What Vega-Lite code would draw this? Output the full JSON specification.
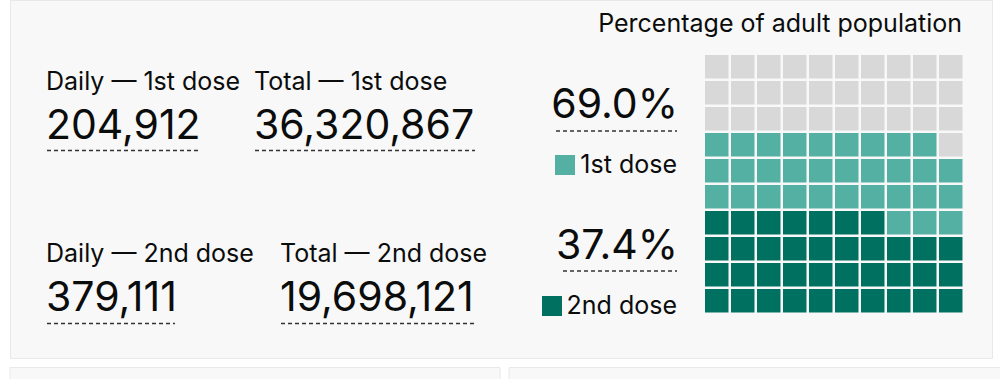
{
  "$schema": "https://vega.github.io/schema/vega-lite/v6.json",
  "width": 982,
  "height": 358,
  "autosize": {"type": "none"},
  "padding": {"left": 10, "top": 0, "right": 8, "bottom": 21},
  "background": "#ffffff",
  "config": {
    "view": {"fill": "#f8f8f8", "stroke": "#e8e8e8", "strokeWidth": 1},
    "text": {"font": "Inter", "color": "#0b0c0c", "baseline": "alphabetic"}
  },
  "datasets": {
    "stats": [
      {"stat": "Daily — 1st dose", "dose": "1st dose", "value": 204912},
      {"stat": "Total — 1st dose", "dose": "1st dose", "value": 36320867},
      {"stat": "Daily — 2nd dose", "dose": "2nd dose", "value": 379111},
      {"stat": "Total — 2nd dose", "dose": "2nd dose", "value": 19698121}
    ],
    "pct": [
      {"status": "1st dose", "share": 0.690},
      {"status": "2nd dose", "share": 0.374}
    ],
    "title": [{"title": "Percentage of adult population"}],
    "panels": [{"panel": "lower left"}, {"panel": "lower right"}],
    "waffle": [
      {"row":0,"col":0,"status":"Not yet vaccinated"},{"row":0,"col":1,"status":"Not yet vaccinated"},{"row":0,"col":2,"status":"Not yet vaccinated"},{"row":0,"col":3,"status":"Not yet vaccinated"},{"row":0,"col":4,"status":"Not yet vaccinated"},{"row":0,"col":5,"status":"Not yet vaccinated"},{"row":0,"col":6,"status":"Not yet vaccinated"},{"row":0,"col":7,"status":"Not yet vaccinated"},{"row":0,"col":8,"status":"Not yet vaccinated"},{"row":0,"col":9,"status":"Not yet vaccinated"},
      {"row":1,"col":0,"status":"Not yet vaccinated"},{"row":1,"col":1,"status":"Not yet vaccinated"},{"row":1,"col":2,"status":"Not yet vaccinated"},{"row":1,"col":3,"status":"Not yet vaccinated"},{"row":1,"col":4,"status":"Not yet vaccinated"},{"row":1,"col":5,"status":"Not yet vaccinated"},{"row":1,"col":6,"status":"Not yet vaccinated"},{"row":1,"col":7,"status":"Not yet vaccinated"},{"row":1,"col":8,"status":"Not yet vaccinated"},{"row":1,"col":9,"status":"Not yet vaccinated"},
      {"row":2,"col":0,"status":"Not yet vaccinated"},{"row":2,"col":1,"status":"Not yet vaccinated"},{"row":2,"col":2,"status":"Not yet vaccinated"},{"row":2,"col":3,"status":"Not yet vaccinated"},{"row":2,"col":4,"status":"Not yet vaccinated"},{"row":2,"col":5,"status":"Not yet vaccinated"},{"row":2,"col":6,"status":"Not yet vaccinated"},{"row":2,"col":7,"status":"Not yet vaccinated"},{"row":2,"col":8,"status":"Not yet vaccinated"},{"row":2,"col":9,"status":"Not yet vaccinated"},
      {"row":3,"col":0,"status":"1st dose"},{"row":3,"col":1,"status":"1st dose"},{"row":3,"col":2,"status":"1st dose"},{"row":3,"col":3,"status":"1st dose"},{"row":3,"col":4,"status":"1st dose"},{"row":3,"col":5,"status":"1st dose"},{"row":3,"col":6,"status":"1st dose"},{"row":3,"col":7,"status":"1st dose"},{"row":3,"col":8,"status":"1st dose"},{"row":3,"col":9,"status":"Not yet vaccinated"},
      {"row":4,"col":0,"status":"1st dose"},{"row":4,"col":1,"status":"1st dose"},{"row":4,"col":2,"status":"1st dose"},{"row":4,"col":3,"status":"1st dose"},{"row":4,"col":4,"status":"1st dose"},{"row":4,"col":5,"status":"1st dose"},{"row":4,"col":6,"status":"1st dose"},{"row":4,"col":7,"status":"1st dose"},{"row":4,"col":8,"status":"1st dose"},{"row":4,"col":9,"status":"1st dose"},
      {"row":5,"col":0,"status":"1st dose"},{"row":5,"col":1,"status":"1st dose"},{"row":5,"col":2,"status":"1st dose"},{"row":5,"col":3,"status":"1st dose"},{"row":5,"col":4,"status":"1st dose"},{"row":5,"col":5,"status":"1st dose"},{"row":5,"col":6,"status":"1st dose"},{"row":5,"col":7,"status":"1st dose"},{"row":5,"col":8,"status":"1st dose"},{"row":5,"col":9,"status":"1st dose"},
      {"row":6,"col":0,"status":"2nd dose"},{"row":6,"col":1,"status":"2nd dose"},{"row":6,"col":2,"status":"2nd dose"},{"row":6,"col":3,"status":"2nd dose"},{"row":6,"col":4,"status":"2nd dose"},{"row":6,"col":5,"status":"2nd dose"},{"row":6,"col":6,"status":"2nd dose"},{"row":6,"col":7,"status":"1st dose"},{"row":6,"col":8,"status":"1st dose"},{"row":6,"col":9,"status":"1st dose"},
      {"row":7,"col":0,"status":"2nd dose"},{"row":7,"col":1,"status":"2nd dose"},{"row":7,"col":2,"status":"2nd dose"},{"row":7,"col":3,"status":"2nd dose"},{"row":7,"col":4,"status":"2nd dose"},{"row":7,"col":5,"status":"2nd dose"},{"row":7,"col":6,"status":"2nd dose"},{"row":7,"col":7,"status":"2nd dose"},{"row":7,"col":8,"status":"2nd dose"},{"row":7,"col":9,"status":"2nd dose"},
      {"row":8,"col":0,"status":"2nd dose"},{"row":8,"col":1,"status":"2nd dose"},{"row":8,"col":2,"status":"2nd dose"},{"row":8,"col":3,"status":"2nd dose"},{"row":8,"col":4,"status":"2nd dose"},{"row":8,"col":5,"status":"2nd dose"},{"row":8,"col":6,"status":"2nd dose"},{"row":8,"col":7,"status":"2nd dose"},{"row":8,"col":8,"status":"2nd dose"},{"row":8,"col":9,"status":"2nd dose"},
      {"row":9,"col":0,"status":"2nd dose"},{"row":9,"col":1,"status":"2nd dose"},{"row":9,"col":2,"status":"2nd dose"},{"row":9,"col":3,"status":"2nd dose"},{"row":9,"col":4,"status":"2nd dose"},{"row":9,"col":5,"status":"2nd dose"},{"row":9,"col":6,"status":"2nd dose"},{"row":9,"col":7,"status":"2nd dose"},{"row":9,"col":8,"status":"2nd dose"},{"row":9,"col":9,"status":"2nd dose"}
    ]
  },
  "resolve": {"scale": {"x": "independent", "y": "independent"}},
  "layer": [
    {
      "layer": [
        {
          "data": {"name": "panels"},
          "transform": [{"filter": {"field": "panel", "equal": "lower left"}}],
          "mark": {"type": "rect", "fill": "#f8f8f8", "stroke": "#e8e8e8", "strokeWidth": 1, "clip": false},
          "encoding": {
            "x": {"datum": 10, "type": "quantitative", "scale": {"domain": [10, 992], "nice": false, "zero": false}, "axis": null},
            "x2": {"datum": 500},
            "y": {"datum": 367.5, "type": "quantitative", "scale": {"domain": [0, 358], "nice": false, "zero": false, "reverse": true}, "axis": null},
            "y2": {"datum": 382}
          }
        },
        {
          "data": {"name": "panels"},
          "transform": [{"filter": {"field": "panel", "equal": "lower right"}}],
          "mark": {"type": "rect", "fill": "#f8f8f8", "stroke": "#e8e8e8", "strokeWidth": 1, "clip": false},
          "encoding": {
            "x": {"datum": 509, "type": "quantitative", "scale": {"domain": [10, 992], "nice": false, "zero": false}, "axis": null},
            "x2": {"datum": 1005},
            "y": {"datum": 367.5, "type": "quantitative", "scale": {"domain": [0, 358], "nice": false, "zero": false, "reverse": true}, "axis": null},
            "y2": {"datum": 382}
          }
        },
        {
          "data": {"name": "title"},
          "mark": {"type": "text", "fontSize": 25, "align": "right"},
          "encoding": {
            "x": {"datum": 962, "type": "quantitative", "scale": {"domain": [10, 992], "nice": false, "zero": false}, "axis": null},
            "y": {"datum": 32, "type": "quantitative", "scale": {"domain": [0, 358], "nice": false, "zero": false, "reverse": true}, "axis": null},
            "text": {"field": "title", "type": "nominal"}
          }
        },
        {
          "data": {"name": "stats"},
          "transform": [{"filter": {"field": "stat", "equal": "Daily — 1st dose"}}],
          "layer": [
            {"mark": {"type": "text", "fontSize": 25, "align": "left"},
             "encoding": {
               "x": {"datum": 46, "type": "quantitative", "scale": {"domain": [10, 992], "nice": false, "zero": false}, "axis": null},
               "y": {"datum": 90, "type": "quantitative", "scale": {"domain": [0, 358], "nice": false, "zero": false, "reverse": true}, "axis": null},
               "text": {"field": "stat", "type": "nominal"}}},
            {"mark": {"type": "text", "fontSize": 41, "align": "left"},
             "encoding": {
               "x": {"datum": 46, "type": "quantitative", "scale": {"domain": [10, 992], "nice": false, "zero": false}, "axis": null},
               "y": {"datum": 139, "type": "quantitative", "scale": {"domain": [0, 358], "nice": false, "zero": false, "reverse": true}, "axis": null},
               "text": {"field": "value", "type": "quantitative", "format": ","}}},
            {"mark": {"type": "rule", "color": "#333333", "strokeWidth": 1.5, "strokeDash": [4, 3]},
             "encoding": {
               "x": {"datum": 47, "type": "quantitative", "scale": {"domain": [10, 992], "nice": false, "zero": false}, "axis": null},
               "x2": {"datum": 200},
               "y": {"datum": 150.5, "type": "quantitative", "scale": {"domain": [0, 358], "nice": false, "zero": false, "reverse": true}, "axis": null}}}
          ]
        },
        {
          "data": {"name": "stats"},
          "transform": [{"filter": {"field": "stat", "equal": "Total — 1st dose"}}],
          "layer": [
            {"mark": {"type": "text", "fontSize": 25, "align": "left"},
             "encoding": {
               "x": {"datum": 254, "type": "quantitative", "scale": {"domain": [10, 992], "nice": false, "zero": false}, "axis": null},
               "y": {"datum": 90, "type": "quantitative", "scale": {"domain": [0, 358], "nice": false, "zero": false, "reverse": true}, "axis": null},
               "text": {"field": "stat", "type": "nominal"}}},
            {"mark": {"type": "text", "fontSize": 41, "align": "left"},
             "encoding": {
               "x": {"datum": 254, "type": "quantitative", "scale": {"domain": [10, 992], "nice": false, "zero": false}, "axis": null},
               "y": {"datum": 139, "type": "quantitative", "scale": {"domain": [0, 358], "nice": false, "zero": false, "reverse": true}, "axis": null},
               "text": {"field": "value", "type": "quantitative", "format": ","}}},
            {"mark": {"type": "rule", "color": "#333333", "strokeWidth": 1.5, "strokeDash": [4, 3]},
             "encoding": {
               "x": {"datum": 255, "type": "quantitative", "scale": {"domain": [10, 992], "nice": false, "zero": false}, "axis": null},
               "x2": {"datum": 475},
               "y": {"datum": 150.5, "type": "quantitative", "scale": {"domain": [0, 358], "nice": false, "zero": false, "reverse": true}, "axis": null}}}
          ]
        },
        {
          "data": {"name": "stats"},
          "transform": [{"filter": {"field": "stat", "equal": "Daily — 2nd dose"}}],
          "layer": [
            {"mark": {"type": "text", "fontSize": 25, "align": "left"},
             "encoding": {
               "x": {"datum": 46, "type": "quantitative", "scale": {"domain": [10, 992], "nice": false, "zero": false}, "axis": null},
               "y": {"datum": 262, "type": "quantitative", "scale": {"domain": [0, 358], "nice": false, "zero": false, "reverse": true}, "axis": null},
               "text": {"field": "stat", "type": "nominal"}}},
            {"mark": {"type": "text", "fontSize": 41, "align": "left"},
             "encoding": {
               "x": {"datum": 46, "type": "quantitative", "scale": {"domain": [10, 992], "nice": false, "zero": false}, "axis": null},
               "y": {"datum": 311, "type": "quantitative", "scale": {"domain": [0, 358], "nice": false, "zero": false, "reverse": true}, "axis": null},
               "text": {"field": "value", "type": "quantitative", "format": ","}}},
            {"mark": {"type": "rule", "color": "#333333", "strokeWidth": 1.5, "strokeDash": [4, 3]},
             "encoding": {
               "x": {"datum": 47, "type": "quantitative", "scale": {"domain": [10, 992], "nice": false, "zero": false}, "axis": null},
               "x2": {"datum": 175},
               "y": {"datum": 323.5, "type": "quantitative", "scale": {"domain": [0, 358], "nice": false, "zero": false, "reverse": true}, "axis": null}}}
          ]
        },
        {
          "data": {"name": "stats"},
          "transform": [{"filter": {"field": "stat", "equal": "Total — 2nd dose"}}],
          "layer": [
            {"mark": {"type": "text", "fontSize": 25, "align": "left"},
             "encoding": {
               "x": {"datum": 280, "type": "quantitative", "scale": {"domain": [10, 992], "nice": false, "zero": false}, "axis": null},
               "y": {"datum": 262, "type": "quantitative", "scale": {"domain": [0, 358], "nice": false, "zero": false, "reverse": true}, "axis": null},
               "text": {"field": "stat", "type": "nominal"}}},
            {"mark": {"type": "text", "fontSize": 41, "align": "left"},
             "encoding": {
               "x": {"datum": 280, "type": "quantitative", "scale": {"domain": [10, 992], "nice": false, "zero": false}, "axis": null},
               "y": {"datum": 311, "type": "quantitative", "scale": {"domain": [0, 358], "nice": false, "zero": false, "reverse": true}, "axis": null},
               "text": {"field": "value", "type": "quantitative", "format": ","}}},
            {"mark": {"type": "rule", "color": "#333333", "strokeWidth": 1.5, "strokeDash": [4, 3]},
             "encoding": {
               "x": {"datum": 281, "type": "quantitative", "scale": {"domain": [10, 992], "nice": false, "zero": false}, "axis": null},
               "x2": {"datum": 474},
               "y": {"datum": 323.5, "type": "quantitative", "scale": {"domain": [0, 358], "nice": false, "zero": false, "reverse": true}, "axis": null}}}
          ]
        },
        {
          "data": {"name": "pct"},
          "transform": [{"filter": {"field": "status", "equal": "1st dose"}}],
          "layer": [
            {"mark": {"type": "text", "fontSize": 41, "align": "right"},
             "encoding": {
               "x": {"datum": 678, "type": "quantitative", "scale": {"domain": [10, 992], "nice": false, "zero": false}, "axis": null},
               "y": {"datum": 118, "type": "quantitative", "scale": {"domain": [0, 358], "nice": false, "zero": false, "reverse": true}, "axis": null},
               "text": {"field": "share", "type": "quantitative", "format": ".1%"}}},
            {"mark": {"type": "rule", "color": "#333333", "strokeWidth": 1.5, "strokeDash": [4, 3]},
             "encoding": {
               "x": {"datum": 556, "type": "quantitative", "scale": {"domain": [10, 992], "nice": false, "zero": false}, "axis": null},
               "x2": {"datum": 677},
               "y": {"datum": 131, "type": "quantitative", "scale": {"domain": [0, 358], "nice": false, "zero": false, "reverse": true}, "axis": null}}},
            {"mark": {"type": "square", "size": 400, "filled": true, "opacity": 1},
             "encoding": {
               "x": {"datum": 565, "type": "quantitative", "scale": {"domain": [10, 992], "nice": false, "zero": false}, "axis": null},
               "y": {"datum": 165, "type": "quantitative", "scale": {"domain": [0, 358], "nice": false, "zero": false, "reverse": true}, "axis": null},
               "color": {"field": "status", "type": "nominal", "scale": {"domain": ["2nd dose", "1st dose", "Not yet vaccinated"], "range": ["#007060", "#55b0a4", "#d8d8d8"]}, "legend": null}}},
            {"mark": {"type": "text", "fontSize": 25, "align": "right"},
             "encoding": {
               "x": {"datum": 677, "type": "quantitative", "scale": {"domain": [10, 992], "nice": false, "zero": false}, "axis": null},
               "y": {"datum": 173, "type": "quantitative", "scale": {"domain": [0, 358], "nice": false, "zero": false, "reverse": true}, "axis": null},
               "text": {"field": "status", "type": "nominal"}}}
          ]
        },
        {
          "data": {"name": "pct"},
          "transform": [{"filter": {"field": "status", "equal": "2nd dose"}}],
          "layer": [
            {"mark": {"type": "text", "fontSize": 41, "align": "right"},
             "encoding": {
               "x": {"datum": 678, "type": "quantitative", "scale": {"domain": [10, 992], "nice": false, "zero": false}, "axis": null},
               "y": {"datum": 259, "type": "quantitative", "scale": {"domain": [0, 358], "nice": false, "zero": false, "reverse": true}, "axis": null},
               "text": {"field": "share", "type": "quantitative", "format": ".1%"}}},
            {"mark": {"type": "rule", "color": "#333333", "strokeWidth": 1.5, "strokeDash": [4, 3]},
             "encoding": {
               "x": {"datum": 563, "type": "quantitative", "scale": {"domain": [10, 992], "nice": false, "zero": false}, "axis": null},
               "x2": {"datum": 677},
               "y": {"datum": 271, "type": "quantitative", "scale": {"domain": [0, 358], "nice": false, "zero": false, "reverse": true}, "axis": null}}},
            {"mark": {"type": "square", "size": 400, "filled": true, "opacity": 1},
             "encoding": {
               "x": {"datum": 552, "type": "quantitative", "scale": {"domain": [10, 992], "nice": false, "zero": false}, "axis": null},
               "y": {"datum": 306, "type": "quantitative", "scale": {"domain": [0, 358], "nice": false, "zero": false, "reverse": true}, "axis": null},
               "color": {"field": "status", "type": "nominal", "scale": {"domain": ["2nd dose", "1st dose", "Not yet vaccinated"], "range": ["#007060", "#55b0a4", "#d8d8d8"]}, "legend": null}}},
            {"mark": {"type": "text", "fontSize": 25, "align": "right"},
             "encoding": {
               "x": {"datum": 677, "type": "quantitative", "scale": {"domain": [10, 992], "nice": false, "zero": false}, "axis": null},
               "y": {"datum": 314, "type": "quantitative", "scale": {"domain": [0, 358], "nice": false, "zero": false, "reverse": true}, "axis": null},
               "text": {"field": "status", "type": "nominal"}}}
          ]
        }
      ]
    },
    {
      "data": {"name": "waffle"},
      "mark": {"type": "square", "size": 552, "filled": true, "opacity": 1},
      "encoding": {
        "x": {"field": "col", "type": "quantitative", "scale": {"domain": [-27.183, 10.587], "nice": false, "zero": false}, "axis": null},
        "y": {"field": "row", "type": "quantitative", "scale": {"domain": [-2.567, 11.202], "nice": false, "zero": false, "reverse": true}, "axis": null},
        "color": {"field": "status", "type": "nominal", "scale": {"domain": ["2nd dose", "1st dose", "Not yet vaccinated"], "range": ["#007060", "#55b0a4", "#d8d8d8"]}, "legend": null}
      }
    }
  ]
}
